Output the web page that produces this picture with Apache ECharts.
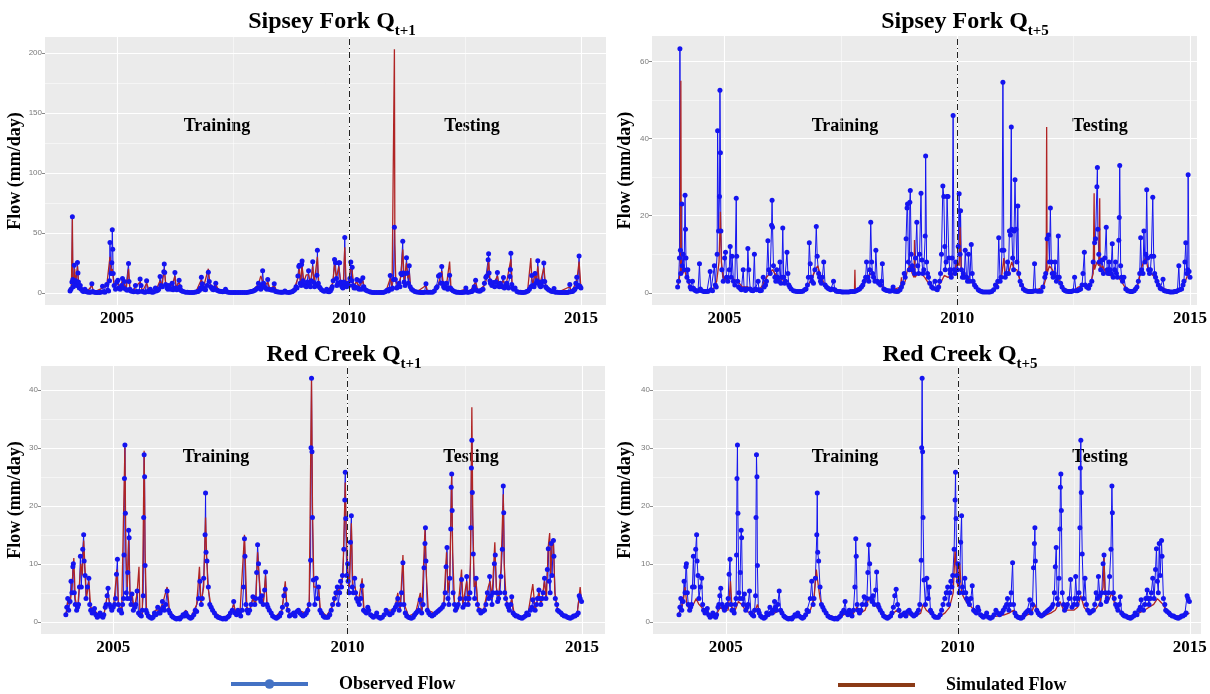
<!DOCTYPE html>
<html>
<head>
<meta charset="utf-8">
<script src="https://cdn.jsdelivr.net/npm/echarts@6/dist/echarts.min.js"></script>
<style>
  html, body { margin: 0; padding: 0; background: #fff; }
  #flow_chart { width: 1210px; height: 694px; }
</style>
</head>
<body>
<div id="flow_chart"></div>
<script>
// tick labels
var xTicks = [2005, 2010, 2015];
var sipseyQ1Ticks = [0, 50, 100, 150, 200];
var sipseyQ5Ticks = [0, 20, 40, 60];
var redTicks = [0, 10, 20, 30, 40];
var splitYear = 2010;

// Sipsey Fork observed flow [year, mm/day]
var sipseyObs = [
  [2003.99,1.5],[2004.01,3],[2004.03,9],[2004.04,63.3],[2004.05,11],[2004.06,5],[2004.08,23],[2004.09,7],[2004.11,10],[2004.13,6],
  [2004.15,25.3],[2004.16,16.5],[2004.17,9],[2004.19,4],[2004.21,6],[2004.23,3],[2004.26,1.5],[2004.28,1],[2004.31,3],[2004.33,1.2],
  [2004.35,0.8],[2004.37,0.6],[2004.40,0.4],[2004.43,0.5],[2004.46,7.5],[2004.48,1],[2004.51,0.5],[2004.55,0.3],[2004.58,0.3],[2004.62,0.3],
  [2004.65,0.4],[2004.69,5.5],[2004.71,0.8],[2004.74,0.5],[2004.78,7],[2004.80,2],[2004.82,1.5],[2004.84,10],[2004.85,42],[2004.87,16],
  [2004.89,25],[2004.90,52.5],[2004.91,36.3],[2004.92,16],[2004.94,6],[2004.97,3],[2005.00,9],[2005.02,10.5],[2005.04,4],[2005.07,3],
  [2005.10,6],[2005.12,12],[2005.14,4],[2005.16,9.5],[2005.19,3],[2005.22,2],[2005.25,24.5],[2005.26,9.5],[2005.28,3],[2005.30,1.5],
  [2005.33,1.2],[2005.36,0.8],[2005.40,6],[2005.42,1],[2005.45,0.6],[2005.48,1],[2005.50,11.5],[2005.52,6],[2005.55,1],[2005.58,0.6],
  [2005.61,0.5],[2005.64,10],[2005.66,1],[2005.69,0.8],[2005.72,3],[2005.74,0.8],[2005.76,0.5],[2005.79,0.6],[2005.83,4],[2005.85,1.5],
  [2005.88,2],[2005.90,3],[2005.93,13.5],[2005.95,6],[2005.98,5],[2006.01,17.5],[2006.02,24],[2006.03,17],[2006.05,7],[2006.08,4],
  [2006.10,3],[2006.12,6],[2006.14,4],[2006.16,3],[2006.19,8],[2006.21,2.5],[2006.23,4],[2006.25,16.8],[2006.27,4],[2006.29,2.5],
  [2006.31,3],[2006.34,10.5],[2006.36,5],[2006.38,2],[2006.40,1.5],[2006.43,1],[2006.48,0.5],[2006.52,0.4],[2006.56,0.3],[2006.60,0.3],
  [2006.64,0.3],[2006.68,0.4],[2006.72,0.8],[2006.75,1],[2006.78,2],[2006.80,4],[2006.82,13],[2006.84,7.5],[2006.86,4],[2006.88,3],
  [2006.91,2.5],[2006.94,6],[2006.97,17.2],[2006.99,9.5],[2007.02,5],[2007.04,4],[2007.06,3],[2007.08,2.5],[2007.10,4],[2007.13,8],
  [2007.16,2],[2007.19,1.5],[2007.22,1.2],[2007.25,1],[2007.28,0.8],[2007.31,1],[2007.34,3],[2007.37,0.8],[2007.40,0.4],[2007.44,0.3],
  [2007.48,0.3],[2007.52,0.2],[2007.55,0.2],[2007.59,0.2],[2007.63,0.2],[2007.67,0.2],[2007.71,0.3],[2007.75,0.3],[2007.79,0.3],[2007.83,0.5],
  [2007.87,0.8],[2007.90,1],[2007.94,1.5],[2007.97,2],[2008.00,3],[2008.03,4],[2008.05,8],[2008.08,4],[2008.10,3],[2008.12,6],
  [2008.14,18.3],[2008.16,8],[2008.18,5],[2008.20,4],[2008.23,3],[2008.25,11],[2008.28,3],[2008.31,2.5],[2008.35,2],[2008.37,3],
  [2008.39,7.5],[2008.42,1],[2008.45,0.8],[2008.48,0.6],[2008.52,0.5],[2008.55,0.4],[2008.58,0.5],[2008.62,1.5],[2008.65,0.4],[2008.70,0.3],
  [2008.73,0.4],[2008.77,0.8],[2008.80,1.5],[2008.83,2.5],[2008.86,5],[2008.88,4],[2008.90,14],[2008.92,22],[2008.93,23],[2008.95,8],
  [2008.97,6],[2008.98,23.5],[2008.99,26.5],[2009.01,10],[2009.03,7],[2009.05,6],[2009.08,5],[2009.10,9],[2009.13,18.3],[2009.15,7],
  [2009.17,5],[2009.19,10],[2009.22,25.8],[2009.24,8.5],[2009.26,5],[2009.28,6],[2009.31,14.7],[2009.32,35.5],[2009.34,8],[2009.36,5],
  [2009.38,4],[2009.41,2.5],[2009.45,1.5],[2009.48,1.2],[2009.52,3],[2009.55,1],[2009.57,0.8],[2009.60,1.5],[2009.62,3],[2009.64,5],
  [2009.66,10],[2009.69,27.7],[2009.71,25],[2009.73,12],[2009.74,6],[2009.76,8],[2009.78,25],[2009.80,25],[2009.82,9],[2009.84,6],
  [2009.85,5],[2009.87,4],[2009.89,9],[2009.91,46],[2009.93,6],[2009.95,5],[2009.97,8],[2010.00,6],[2010.02,12],[2010.04,25.7],
  [2010.06,10],[2010.07,21.3],[2010.09,6],[2010.11,4],[2010.13,5],[2010.15,4],[2010.17,11],[2010.20,4],[2010.22,3],[2010.24,10],
  [2010.27,3],[2010.30,12.5],[2010.32,5],[2010.34,3],[2010.37,2],[2010.40,1.5],[2010.45,0.8],[2010.48,0.5],[2010.52,0.3],[2010.55,0.2],
  [2010.59,0.2],[2010.63,0.2],[2010.67,0.2],[2010.70,0.2],[2010.74,0.3],[2010.78,0.8],[2010.82,2],[2010.85,1.5],[2010.87,3],[2010.89,14.3],
  [2010.92,3],[2010.94,4],[2010.96,11],[2010.98,54.6],[2011.00,11],[2011.03,4],[2011.05,5],[2011.08,8],[2011.10,5],[2011.12,16],
  [2011.14,15],[2011.16,43],[2011.17,16.5],[2011.19,9],[2011.21,6],[2011.22,16],[2011.24,29.3],[2011.26,16.5],[2011.28,8],[2011.30,22.5],
  [2011.32,5],[2011.35,3],[2011.38,2],[2011.42,1],[2011.46,0.6],[2011.50,0.4],[2011.54,0.3],[2011.57,0.3],[2011.60,0.3],[2011.63,0.4],
  [2011.66,7.5],[2011.68,0.5],[2011.72,0.4],[2011.76,0.4],[2011.80,0.4],[2011.84,1.5],[2011.88,4],[2011.90,5],[2011.93,14],[2011.96,15],
  [2011.98,8],[2012.00,22],[2012.02,8],[2012.04,5],[2012.06,4],[2012.08,5],[2012.10,8],[2012.13,3],[2012.15,4],[2012.17,14.7],
  [2012.19,4],[2012.22,2.5],[2012.25,1.5],[2012.29,0.8],[2012.32,0.5],[2012.35,0.4],[2012.39,0.3],[2012.42,0.3],[2012.45,0.3],[2012.49,0.5],
  [2012.52,4],[2012.55,0.5],[2012.58,0.5],[2012.62,0.8],[2012.65,1],[2012.68,2],[2012.70,5],[2012.73,10.5],[2012.75,2],[2012.78,1.5],
  [2012.82,1.2],[2012.85,2],[2012.89,3],[2012.92,8],[2012.95,13],[2012.97,14],[2013.00,27.5],[2013.01,32.5],[2013.02,16.5],[2013.04,10],
  [2013.05,8],[2013.08,6],[2013.11,8.5],[2013.14,5],[2013.17,9],[2013.20,17],[2013.22,6],[2013.24,5],[2013.26,8],[2013.28,6],
  [2013.30,5],[2013.33,12.7],[2013.35,4],[2013.38,6],[2013.40,8],[2013.42,5],[2013.44,4],[2013.47,13.6],[2013.48,19.5],[2013.49,33],
  [2013.51,7],[2013.53,4],[2013.55,3],[2013.58,4],[2013.62,1],[2013.66,0.5],[2013.70,0.4],[2013.73,0.3],[2013.76,0.3],[2013.80,0.5],
  [2013.83,1],[2013.86,1.5],[2013.89,3],[2013.92,5],[2013.94,14.3],[2013.96,6],[2013.99,5],[2014.01,16],[2014.03,8],[2014.05,10],
  [2014.07,26.7],[2014.09,9],[2014.11,6],[2014.13,5],[2014.15,6],[2014.17,9.5],[2014.20,24.8],[2014.22,9.5],[2014.24,5],[2014.26,4],
  [2014.29,3],[2014.32,2],[2014.36,1.2],[2014.39,1],[2014.42,3.5],[2014.45,0.5],[2014.49,0.4],[2014.53,0.3],[2014.57,0.2],[2014.60,0.2],
  [2014.64,0.2],[2014.67,0.3],[2014.70,0.3],[2014.73,0.5],[2014.76,7],[2014.78,0.8],[2014.82,1],[2014.85,2],[2014.87,3],[2014.89,8],
  [2014.91,13],[2014.93,5],[2014.95,6],[2014.96,30.6],[2014.98,5.5],[2015.00,4]
];

// Sipsey Fork simulated, Q t+1
var sipseySimQ1 = [
  [2003.99,1.2],[2004.02,5],[2004.04,62],[2004.05,12],[2004.07,6],[2004.09,20],[2004.11,8],[2004.15,22],[2004.17,10],[2004.20,5],
  [2004.25,2],[2004.35,0.8],[2004.46,6],[2004.50,0.5],[2004.69,4],[2004.78,6],[2004.85,30],[2004.88,14],[2004.90,20],[2004.92,12],
  [2004.95,5],[2005.02,9],[2005.06,4],[2005.12,10],[2005.16,7],[2005.20,3],[2005.25,20],[2005.28,4],[2005.35,1],[2005.40,5],
  [2005.50,9],[2005.55,1],[2005.64,8],[2005.70,1],[2005.85,3],[2005.93,10],[2005.97,5],[2006.02,20],[2006.05,8],[2006.10,5],
  [2006.19,6],[2006.25,14],[2006.28,4],[2006.34,9],[2006.38,3],[2006.45,0.6],[2006.70,0.6],[2006.82,11],[2006.86,4],[2006.97,20],
  [2007.00,8],[2007.06,4],[2007.13,7],[2007.20,1.5],[2007.34,2.5],[2007.45,0.3],[2007.80,0.5],[2007.95,3],[2008.05,7],[2008.10,14],
  [2008.14,15],[2008.18,5],[2008.25,9],[2008.30,3],[2008.39,6],[2008.45,1],[2008.62,1],[2008.80,1.5],[2008.90,12],[2008.93,20],
  [2008.96,8],[2008.99,22],[2009.03,9],[2009.08,15],[2009.13,15],[2009.17,8],[2009.22,22],[2009.25,8],[2009.32,30],[2009.35,7],
  [2009.42,2],[2009.55,2],[2009.65,8],[2009.69,24],[2009.73,12],[2009.78,22],[2009.82,9],[2009.88,8],[2009.91,38],[2009.94,8],
  [2010.00,10],[2010.04,22],[2010.07,18],[2010.10,6],[2010.17,9],[2010.22,5],[2010.30,10],[2010.34,3],[2010.45,0.6],[2010.80,1.5],
  [2010.89,12],[2010.93,4],[2010.98,203],[2010.99,40],[2011.01,10],[2011.06,5],[2011.12,14],[2011.16,36],[2011.19,10],[2011.24,25],
  [2011.27,12],[2011.30,18],[2011.33,4],[2011.45,0.5],[2011.66,6],[2011.70,0.5],[2011.90,3],[2011.96,12],[2012.00,18],[2012.04,6],
  [2012.10,6],[2012.17,26],[2012.20,3],[2012.30,0.6],[2012.52,3],[2012.60,0.6],[2012.73,9],[2012.78,1.5],[2012.92,6],[2012.97,12],
  [2013.01,27],[2013.04,10],[2013.11,7],[2013.20,14],[2013.24,6],[2013.33,10],[2013.38,5],[2013.49,28],[2013.52,6],[2013.60,1],
  [2013.85,1.5],[2013.92,29],[2013.94,12],[2013.97,6],[2014.01,18],[2014.04,8],[2014.07,22],[2014.11,6],[2014.20,21],[2014.24,6],
  [2014.35,1.5],[2014.42,3],[2014.50,0.4],[2014.76,5],[2014.80,0.8],[2014.91,10],[2014.96,26],[2015.00,4]
];

// Sipsey Fork simulated, Q t+5
var sipseySimQ5 = [
  [2003.99,1],[2004.02,3],[2004.05,6],[2004.06,55],[2004.07,6],[2004.10,5],[2004.14,6],[2004.18,4],[2004.24,2],[2004.32,1],
  [2004.45,0.5],[2004.60,0.3],[2004.75,0.8],[2004.83,3],[2004.88,8],[2004.91,21],[2004.93,8],[2004.97,4],[2005.05,3],[2005.12,4],
  [2005.20,3.5],[2005.28,3],[2005.38,1.5],[2005.50,1.5],[2005.62,1],[2005.72,0.5],[2005.82,2],[2005.90,4],[2005.97,5],[2006.03,6],
  [2006.08,5],[2006.15,4],[2006.22,3.5],[2006.30,3],[2006.38,1.5],[2006.50,0.4],[2006.70,0.3],[2006.80,2],[2006.88,4],[2006.95,6],
  [2007.00,7],[2007.05,5],[2007.12,3],[2007.22,1],[2007.40,0.3],[2007.70,0.2],[2007.79,0.3],[2007.80,6],[2007.81,0.3],[2007.95,1],
  [2008.03,3],[2008.10,4.5],[2008.17,5],[2008.25,3.5],[2008.35,2],[2008.45,0.8],[2008.62,0.8],[2008.78,1.5],[2008.80,4],[2008.82,1.5],
  [2008.88,3],[2008.93,6],[2008.98,7],[2009.03,5],[2009.07,4],[2009.08,13.7],[2009.09,4],[2009.15,5],[2009.22,5],[2009.30,4],
  [2009.38,2.5],[2009.48,1],[2009.58,1.5],[2009.66,3],[2009.72,4.5],[2009.80,4],[2009.88,4.5],[2009.95,6],[2010.00,8],[2010.04,7],
  [2010.06,17],[2010.08,6],[2010.14,5],[2010.22,4],[2010.30,3],[2010.40,1.2],[2010.55,0.3],[2010.78,0.5],[2010.88,2.5],[2010.95,4],
  [2011.00,9],[2011.03,4],[2011.10,5],[2011.17,8],[2011.22,6],[2011.28,6],[2011.35,3],[2011.45,1],[2011.65,0.5],[2011.85,1.5],
  [2011.91,4],[2011.92,43],[2011.93,5],[2011.98,7],[2012.04,6],[2012.12,4],[2012.20,3],[2012.30,1],[2012.50,0.5],[2012.60,1.5],
  [2012.72,2],[2012.85,2],[2012.92,5],[2012.94,25.8],[2012.95,6],[2013.00,8],[2013.04,7],[2013.06,24.5],[2013.07,6],[2013.12,7],
  [2013.20,5],[2013.28,4.5],[2013.36,4],[2013.46,4],[2013.52,3],[2013.60,1.5],[2013.75,0.4],[2013.88,2],[2013.95,6],[2014.00,8],
  [2014.05,9],[2014.10,6],[2014.17,5],[2014.24,4],[2014.32,2],[2014.45,1],[2014.65,0.3],[2014.80,1],[2014.90,3],[2014.96,5],
  [2015.00,4]
];

// Red Creek observed flow
var redObs = [
  [2003.99,1.2],[2004.01,2.5],[2004.03,4],[2004.05,2],[2004.08,3.5],[2004.10,7],[2004.12,5],[2004.14,9.5],[2004.15,10],[2004.17,5],
  [2004.19,3],[2004.22,2],[2004.24,2.5],[2004.26,3],[2004.28,6],[2004.30,11.3],[2004.32,6],[2004.35,12.5],[2004.37,15],[2004.38,10.5],
  [2004.40,8],[2004.42,4],[2004.45,6],[2004.48,7.5],[2004.50,3],[2004.52,2],[2004.55,1.5],[2004.58,1.8],[2004.60,2.3],[2004.63,1.2],
  [2004.66,0.8],[2004.69,1],[2004.72,1.5],[2004.75,1],[2004.78,0.8],[2004.80,1.2],[2004.83,2.5],[2004.85,3],[2004.87,4.5],[2004.89,5.8],
  [2004.92,3],[2004.95,2.5],[2004.97,2],[2005.00,2.5],[2005.03,3],[2005.05,4],[2005.07,8.2],[2005.09,10.8],[2005.11,3],[2005.13,2],
  [2005.16,2],[2005.18,1.5],[2005.20,3],[2005.22,4],[2005.23,11.5],[2005.24,24.7],[2005.25,30.5],[2005.26,18.7],[2005.28,5],[2005.30,4],
  [2005.31,8.5],[2005.33,15.8],[2005.34,14.5],[2005.36,4],[2005.38,3],[2005.40,4.8],[2005.43,2],[2005.46,2.5],[2005.48,3],[2005.51,5.3],
  [2005.54,1.5],[2005.57,1.2],[2005.60,1],[2005.62,2],[2005.64,4.5],[2005.65,18],[2005.66,28.8],[2005.67,25],[2005.68,9.7],[2005.70,2],
  [2005.72,1.5],[2005.75,1],[2005.78,0.8],[2005.82,0.6],[2005.85,0.8],[2005.88,1.5],[2005.91,1.2],[2005.95,2.5],[2005.97,1.5],[2006.00,1.5],
  [2006.02,2],[2006.05,3.5],[2006.07,2.5],[2006.09,2],[2006.12,3],[2006.15,5.3],[2006.18,2],[2006.21,1.5],[2006.25,1],[2006.28,0.8],
  [2006.32,0.6],[2006.35,0.5],[2006.39,0.6],[2006.42,0.5],[2006.45,0.8],[2006.49,1.2],[2006.52,1],[2006.55,1.5],[2006.58,1],[2006.62,0.8],
  [2006.65,0.6],[2006.68,0.8],[2006.72,1.2],[2006.75,2],[2006.78,1.8],[2006.82,4],[2006.85,7],[2006.88,3],[2006.90,4],[2006.93,7.5],
  [2006.96,15],[2006.97,22.2],[2006.98,12],[2007.00,10.5],[2007.03,6],[2007.06,3],[2007.09,2.5],[2007.12,2],[2007.16,1.5],[2007.20,1],
  [2007.24,0.8],[2007.27,0.7],[2007.30,0.6],[2007.34,0.5],[2007.37,0.6],[2007.40,0.5],[2007.44,0.8],[2007.47,1],[2007.50,1.5],[2007.54,2],
  [2007.57,3.5],[2007.60,1.5],[2007.63,1.2],[2007.66,2],[2007.69,1.5],[2007.72,1],[2007.75,2],[2007.78,6],[2007.80,14.3],[2007.81,11.3],
  [2007.83,3],[2007.85,2],[2007.88,1.5],[2007.91,2],[2007.94,3],[2007.98,4.3],[2008.02,3],[2008.04,4],[2008.06,8.5],[2008.08,13.3],
  [2008.10,10],[2008.13,4],[2008.15,3.5],[2008.17,4.5],[2008.20,3],[2008.23,5.5],[2008.25,8.6],[2008.28,3],[2008.30,2.5],[2008.33,2],
  [2008.37,1.5],[2008.40,1],[2008.44,0.8],[2008.48,0.6],[2008.51,0.8],[2008.55,1],[2008.58,1.5],[2008.61,2.5],[2008.64,4.5],[2008.67,5.6],
  [2008.70,3],[2008.73,2],[2008.76,1],[2008.80,1.2],[2008.85,1.5],[2008.88,1],[2008.92,1.8],[2008.95,2],[2008.98,1.5],[2009.02,1.2],
  [2009.05,1],[2009.09,1.2],[2009.12,1.5],[2009.15,2],[2009.18,3],[2009.21,10.6],[2009.22,30],[2009.23,42],[2009.24,29.3],[2009.25,18],
  [2009.27,7.2],[2009.30,3],[2009.33,7.5],[2009.36,4],[2009.38,6],[2009.41,2],[2009.44,1.5],[2009.48,1],[2009.51,0.8],[2009.55,0.8],
  [2009.58,0.8],[2009.62,1.2],[2009.65,2],[2009.68,3],[2009.72,4],[2009.75,5],[2009.78,6],[2009.80,3],[2009.83,5],[2009.85,7],
  [2009.87,6],[2009.89,8],[2009.92,12.5],[2009.94,21],[2009.95,25.8],[2009.96,17.8],[2009.98,8],[2010.00,10],[2010.01,7],[2010.03,5],
  [2010.06,13.7],[2010.08,18.3],[2010.10,6],[2010.12,5],[2010.15,7.5],[2010.17,5],[2010.19,4],[2010.22,3.5],[2010.25,3],[2010.28,4],
  [2010.31,6.2],[2010.34,2],[2010.37,1.8],[2010.40,1.5],[2010.43,2.5],[2010.45,2],[2010.49,1.2],[2010.52,1],[2010.55,0.8],[2010.58,1],
  [2010.62,1.5],[2010.66,0.8],[2010.70,0.6],[2010.74,0.8],[2010.78,1.2],[2010.82,2],[2010.86,1.5],[2010.90,1.2],[2010.95,1.5],[2010.98,2],
  [2011.02,2.5],[2011.05,3],[2011.07,4],[2011.10,2],[2011.13,3],[2011.15,5],[2011.18,10.2],[2011.20,3],[2011.23,1.5],[2011.26,1],
  [2011.30,0.8],[2011.33,0.7],[2011.36,0.6],[2011.40,0.8],[2011.43,1.2],[2011.46,1.5],[2011.49,1.8],[2011.52,2],[2011.55,3.8],[2011.58,1.5],
  [2011.61,3],[2011.63,9.3],[2011.65,13.5],[2011.66,16.2],[2011.67,10.5],[2011.70,2],[2011.73,1.5],[2011.76,1.2],[2011.80,1],[2011.84,1.2],
  [2011.88,1.5],[2011.92,1.8],[2011.95,2],[2011.98,2.2],[2012.02,2.5],[2012.05,3],[2012.08,5],[2012.10,9.5],[2012.12,12.8],[2012.14,4],
  [2012.16,3],[2012.18,7.5],[2012.20,16],[2012.21,23.2],[2012.22,25.5],[2012.23,19.2],[2012.25,5],[2012.28,3],[2012.30,2],[2012.33,2.5],
  [2012.36,3],[2012.40,4],[2012.43,7.3],[2012.46,2.5],[2012.50,3],[2012.52,4],[2012.54,7.8],[2012.57,3],[2012.59,4],[2012.61,5],
  [2012.63,16.2],[2012.64,26.5],[2012.65,31.3],[2012.66,22.3],[2012.68,11.7],[2012.71,4],[2012.74,7.5],[2012.77,3],[2012.80,2],[2012.84,1.5],
  [2012.88,1.8],[2012.92,2],[2012.95,3],[2012.98,5],[2013.01,4],[2013.03,7.8],[2013.06,4.5],[2013.08,3],[2013.10,5],[2013.13,10],
  [2013.15,11.5],[2013.18,5],[2013.20,3.5],[2013.22,4],[2013.25,5],[2013.27,7.8],[2013.30,12.5],[2013.32,23.4],[2013.33,18.8],[2013.35,5],
  [2013.37,4],[2013.40,3],[2013.43,2.5],[2013.45,2],[2013.48,3],[2013.50,4.3],[2013.53,1.5],[2013.56,1.2],[2013.59,1],[2013.62,1],
  [2013.66,0.8],[2013.69,0.7],[2013.72,0.6],[2013.75,0.8],[2013.79,1],[2013.82,1.5],[2013.86,1.2],[2013.90,2],[2013.93,2.5],[2013.95,3.8],
  [2014.00,2],[2014.03,3],[2014.05,4],[2014.08,5.5],[2014.10,4],[2014.12,3],[2014.15,4],[2014.17,5],[2014.20,7.5],[2014.23,4],
  [2014.26,9],[2014.28,12.6],[2014.30,7],[2014.32,5],[2014.34,13.5],[2014.36,8],[2014.39,14],[2014.40,11.3],[2014.43,4],[2014.46,3],
  [2014.48,2],[2014.51,1.8],[2014.55,1.5],[2014.58,1.2],[2014.62,1],[2014.65,1],[2014.69,0.8],[2014.72,0.7],[2014.75,0.6],[2014.79,0.8],
  [2014.82,1],[2014.85,1],[2014.89,1.2],[2014.92,1.5],[2014.94,4.5],[2014.96,4],[2014.99,3.5]
];

// Red Creek simulated, Q t+1
var redSimQ1 = [
  [2003.99,1],[2004.03,3.5],[2004.08,3],[2004.12,6],[2004.16,11],[2004.19,4],[2004.24,2],[2004.31,10],[2004.34,8],[2004.37,14],
  [2004.40,9],[2004.43,4],[2004.48,7],[2004.52,2.5],[2004.60,2],[2004.70,1],[2004.80,1],[2004.88,5],[2004.93,3],[2005.00,2],
  [2005.08,9],[2005.11,3],[2005.18,2],[2005.25,30],[2005.27,12],[2005.30,6],[2005.33,14],[2005.36,4],[2005.40,5],[2005.45,2],
  [2005.51,5],[2005.55,9.5],[2005.57,1.5],[2005.62,1],[2005.66,29.5],[2005.68,12],[2005.71,2],[2005.80,0.6],[2005.90,2],[2005.98,2],
  [2006.05,3],[2006.15,6],[2006.20,2],[2006.30,0.8],[2006.45,1],[2006.55,2],[2006.65,0.6],[2006.78,3],[2006.84,9.5],[2006.87,3],
  [2006.93,6],[2006.97,18],[2006.99,12],[2007.02,6],[2007.08,3],[2007.18,1.5],[2007.35,0.6],[2007.50,1.5],[2007.57,3],[2007.62,1.5],
  [2007.70,1],[2007.80,15],[2007.82,10],[2007.85,2.5],[2007.92,2],[2007.98,4],[2008.04,3],[2008.08,12],[2008.11,8],[2008.15,4],
  [2008.20,3],[2008.25,8],[2008.28,3],[2008.35,1.5],[2008.45,0.8],[2008.60,2],[2008.67,7],[2008.71,2],[2008.80,1],[2008.95,2],
  [2009.10,1.5],[2009.18,3],[2009.23,42],[2009.25,20],[2009.28,6],[2009.33,6],[2009.38,6],[2009.42,2],[2009.55,1],[2009.70,3],
  [2009.77,5],[2009.85,6],[2009.90,8],[2009.95,24],[2009.97,16],[2010.00,9],[2010.04,6],[2010.08,17],[2010.11,6],[2010.16,6],
  [2010.22,3],[2010.31,7.5],[2010.35,2],[2010.45,1.5],[2010.60,1],[2010.75,1],[2010.85,2],[2011.00,2],[2011.07,5],[2011.12,2],
  [2011.18,11.5],[2011.21,3],[2011.30,1],[2011.45,1.5],[2011.55,5],[2011.58,1.5],[2011.65,16],[2011.68,8],[2011.72,2],[2011.85,1.5],
  [2011.98,2],[2012.05,3],[2012.11,12],[2012.14,5],[2012.18,8],[2012.22,25.5],[2012.24,12],[2012.28,3],[2012.35,2],[2012.43,9],
  [2012.46,3],[2012.54,7],[2012.58,3],[2012.62,10],[2012.65,37],[2012.67,18],[2012.70,6],[2012.74,7],[2012.78,2.5],[2012.90,2],
  [2013.00,6],[2013.04,7],[2013.08,4],[2013.14,13.7],[2013.17,6],[2013.22,4],[2013.27,9],[2013.32,22],[2013.34,10],[2013.38,4],
  [2013.45,2],[2013.50,4],[2013.55,1.5],[2013.70,0.8],[2013.85,1.5],[2013.95,6.5],[2014.00,2],[2014.08,5],[2014.13,3],[2014.20,7],
  [2014.24,4],[2014.28,13],[2014.31,15.3],[2014.33,8],[2014.36,13],[2014.39,14],[2014.42,5],[2014.48,2],[2014.60,1.2],[2014.75,0.8],
  [2014.90,1.5],[2014.96,6],[2014.99,3.5]
];

// Red Creek simulated, Q t+5
var redSimQ5 = [
  [2003.99,1.5],[2004.04,2.5],[2004.09,4],[2004.12,6],[2004.16,3],[2004.22,2],[2004.30,3],[2004.36,4],[2004.42,3],[2004.48,2.5],
  [2004.55,1.5],[2004.65,1],[2004.78,1],[2004.88,2.5],[2004.95,2],[2005.05,2],[2005.10,7],[2005.13,2.5],[2005.20,2],[2005.27,3.5],
  [2005.34,3],[2005.42,2],[2005.52,1.5],[2005.60,1.2],[2005.68,3],[2005.75,1],[2005.85,0.8],[2005.95,1.2],[2006.05,1.5],[2006.15,2],
  [2006.25,1],[2006.40,0.8],[2006.55,1],[2006.70,1],[2006.82,2],[2006.90,4],[2006.95,9],[2006.98,7],[2007.03,4],[2007.10,2],
  [2007.20,1.2],[2007.35,0.8],[2007.50,1],[2007.60,1.5],[2007.72,1],[2007.82,2.5],[2007.90,1.5],[2008.00,2],[2008.08,4],[2008.14,3.5],
  [2008.22,3],[2008.30,2],[2008.40,1.2],[2008.55,1],[2008.68,2],[2008.80,1.2],[2008.95,1.2],[2009.10,1],[2009.20,1.5],[2009.25,3],
  [2009.32,2],[2009.40,1.5],[2009.50,1],[2009.62,1],[2009.72,1.5],[2009.82,2.5],[2009.90,5],[2009.94,12.5],[2009.97,8],[2010.00,6],
  [2010.04,10],[2010.08,5],[2010.14,4],[2010.22,3],[2010.30,2.5],[2010.40,1.5],[2010.55,1],[2010.70,0.8],[2010.85,1],[2011.00,1.2],
  [2011.10,1.5],[2011.20,2],[2011.30,1],[2011.45,1],[2011.58,1.5],[2011.66,3],[2011.72,1.5],[2011.85,1],[2012.00,1.5],[2012.10,2],
  [2012.20,3.5],[2012.28,2],[2012.40,2],[2012.50,2],[2012.58,2.5],[2012.65,4.5],[2012.72,2.5],[2012.82,1.5],[2012.95,2],[2013.05,3],
  [2013.13,6],[2013.15,11],[2013.17,5],[2013.24,3.5],[2013.32,5],[2013.38,3],[2013.48,2],[2013.60,1.2],[2013.75,1],[2013.90,1.5],
  [2014.02,2],[2014.12,2.5],[2014.22,3],[2014.30,4],[2014.36,3.5],[2014.42,3],[2014.52,1.5],[2014.65,1],[2014.80,1],[2014.92,1.2],
  [2014.99,1.5]
];

var serif = 'Liberation Serif';
var obsColor = '#1414f0';
var simColor = '#b02424';

// panels: title, observed, simulated, y ticks, grid box, x range, y range
var panels = [
  { title: 'Sipsey Fork Q', sub: 't+1', obs: sipseyObs, sim: sipseySimQ1, ticks: sipseyQ1Ticks,
    box: [45, 37, 561, 268], xr: [2003.45, 2015.54], yr: [-10.2, 213.3], gap: 20, tx: 332, ty: 26, lab: [217, 472, 126] },
  { title: 'Sipsey Fork Q', sub: 't+5', obs: sipseyObs, sim: sipseySimQ5, ticks: sipseyQ5Ticks,
    box: [652, 36, 548, 269], xr: [2003.44, 2015.15], yr: [-3.17, 66.6], gap: 18, tx: 965, ty: 26, lab: [845, 1100, 126] },
  { title: 'Red Creek Q', sub: 't+1', obs: redObs, sim: redSimQ1, ticks: redTicks,
    box: [41, 366, 564, 268], xr: [2003.46, 2015.49], yr: [-2.1, 44.1], gap: 17, tx: 344, ty: 359, lab: [216, 471, 457] },
  { title: 'Red Creek Q', sub: 't+5', obs: redObs, sim: redSimQ5, ticks: redTicks,
    box: [653, 366, 548, 268], xr: [2003.43, 2015.24], yr: [-2.1, 44.1], gap: 19, tx: 960, ty: 359, lab: [845, 1100, 457] }
];

function mids(arr) {
  var out = [];
  for (var i = 0; i < arr.length - 1; i++) out.push((arr[i] + arr[i + 1]) / 2);
  return out;
}

var grids = [], xAxes = [], yAxes = [], series = [], graphics = [];

panels.forEach(function (p, i) {
  grids.push({
    left: p.box[0], top: p.box[1], width: p.box[2], height: p.box[3],
    show: true, backgroundColor: '#ebebeb', borderWidth: 0
  });
  xAxes.push({
    type: 'value', gridIndex: i, min: p.xr[0], max: p.xr[1],
    axisLine: { show: false },
    axisTick: { show: true, customValues: xTicks, length: 3, lineStyle: { color: '#8a8a8a' } },
    axisLabel: {
      customValues: xTicks, formatter: function (v) { return String(v); },
      fontFamily: serif, fontWeight: 'bold', fontSize: 17, color: '#000', margin: 5
    },
    splitLine: { show: false }
  });
  yAxes.push({
    type: 'value', gridIndex: i, min: p.yr[0], max: p.yr[1],
    name: 'Flow (mm/day)', nameLocation: 'middle', nameGap: p.gap,
    nameTextStyle: { fontFamily: serif, fontWeight: 'bold', fontSize: 18, color: '#000' },
    axisLine: { show: false },
    axisTick: { show: true, customValues: p.ticks, length: 3, lineStyle: { color: '#8a8a8a' } },
    axisLabel: { customValues: p.ticks, fontSize: 8, color: '#7a7a7a', margin: 3 },
    splitLine: { show: false }
  });

  // panel grid lines (white, under the data)
  var gl = [];
  xTicks.forEach(function (v) { gl.push({ xAxis: v, lineStyle: { color: '#fff', width: 1.1, type: 'solid' } }); });
  mids(xTicks).forEach(function (v) { gl.push({ xAxis: v, lineStyle: { color: '#fff', width: 0.5, type: 'solid' } }); });
  p.ticks.forEach(function (v) { gl.push({ yAxis: v, lineStyle: { color: '#fff', width: 1.1, type: 'solid' } }); });
  mids(p.ticks).forEach(function (v) { gl.push({ yAxis: v, lineStyle: { color: '#fff', width: 0.5, type: 'solid' } }); });

  series.push({
    name: 'obs' + i, type: 'line', xAxisIndex: i, yAxisIndex: i,
    data: p.obs, symbol: 'circle', symbolSize: 5, showSymbol: true,
    lineStyle: { color: obsColor, width: 1 }, itemStyle: { color: obsColor },
    silent: true, animation: false,
    markLine: { silent: true, symbol: ['none', 'none'], label: { show: false }, z: 1, animation: false, data: gl }
  });
  series.push({
    name: 'sim' + i, type: 'line', xAxisIndex: i, yAxisIndex: i,
    data: p.sim, showSymbol: false, symbol: 'none',
    lineStyle: { color: simColor, width: 1.3 }, itemStyle: { color: simColor },
    silent: true, animation: false,
    markLine: {
      silent: true, symbol: ['none', 'none'], label: { show: false }, animation: false,
      data: [{ xAxis: splitYear, lineStyle: { color: '#222', width: 1, type: [6, 3, 1, 3] } }]
    }
  });

  graphics.push({
    type: 'text', x: p.tx, y: p.ty,
    style: {
      text: '{a|' + p.title + '}{s|' + p.sub + '}',
      align: 'center', verticalAlign: 'middle',
      rich: {
        a: { fontFamily: serif, fontWeight: 'bold', fontSize: 24, fill: '#000', lineHeight: 26, padding: [0, 0, 5, 0], verticalAlign: 'bottom' },
        s: { fontFamily: serif, fontWeight: 'bold', fontSize: 15, fill: '#000', lineHeight: 16, verticalAlign: 'bottom' }
      }
    }
  });
  graphics.push({
    type: 'text', x: p.lab[0], y: p.lab[2],
    style: { text: 'Training', font: 'bold 18px "Liberation Serif"', fill: '#000', align: 'center', verticalAlign: 'middle' }
  });
  graphics.push({
    type: 'text', x: p.lab[1], y: p.lab[2],
    style: { text: 'Testing', font: 'bold 18px "Liberation Serif"', fill: '#000', align: 'center', verticalAlign: 'middle' }
  });
});

// legend-only series
series.push({
  name: 'Observed Flow', type: 'line', xAxisIndex: 0, yAxisIndex: 0, data: [],
  symbol: 'circle', symbolSize: 10, lineStyle: { color: '#4472c4', width: 4 }, itemStyle: { color: '#4472c4' }
});
series.push({
  name: 'Simulated Flow', type: 'line', xAxisIndex: 0, yAxisIndex: 0, data: [],
  symbol: 'none', lineStyle: { color: '#8b3a16', width: 4 }, itemStyle: { color: '#8b3a16' }
});

var legendText = { fontFamily: serif, fontWeight: 'bold', fontSize: 18, color: '#000', padding: [0, 0, 0, 26] };

var myChart = echarts.init(document.getElementById('flow_chart'));
var option = {
  backgroundColor: '#fff',
  animation: false,
  grid: grids,
  xAxis: xAxes,
  yAxis: yAxes,
  legend: [
    { data: ['Observed Flow'], left: 224, top: 670, itemWidth: 77, itemHeight: 12,
      lineStyle: { width: 4 }, textStyle: legendText, selectedMode: false },
    { data: [{ name: 'Simulated Flow', icon: 'rect' }], left: 833, top: 671, itemWidth: 77, itemHeight: 4,
      textStyle: legendText, selectedMode: false }
  ],
  graphic: graphics,
  series: series
};
myChart.setOption(option);
</script>
</body>
</html>
